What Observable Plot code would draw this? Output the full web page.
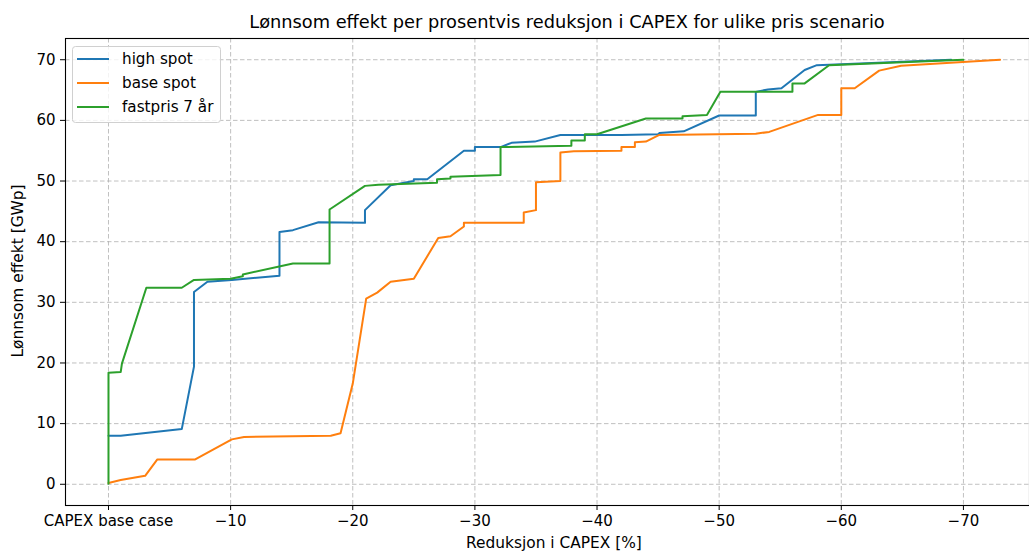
<!DOCTYPE html>
<html>
<head>
<meta charset="utf-8">
<script src="https://cdn.jsdelivr.net/npm/d3@7"></script>
<script src="https://cdn.jsdelivr.net/npm/@observablehq/plot@0.6"></script>
<style>
  html, body { margin: 0; padding: 0; background: #fff; }
  #chart svg { display: block; }
</style>
</head>
<body>
<div id="chart"></div>
<script>
const seriesNames = ["high spot", "base spot", "fastpris 7 år"];
const seriesColors = ["#1f77b4", "#ff7f0e", "#2ca02c"];

const highX = [0, -1, -6, -7, -7, -8.1, -10.1, -14, -14, -15.1, -17.2, -21, -21, -23.1, -25, -25, -26.1, -29.1, -30, -30, -32.1, -33, -34.9, -37, -42, -45, -45.1, -47.1, -50, -53, -53, -54, -55.1, -57, -58, -69];
const highY = [8, 8, 9.1, 19.4, 31.7, 33.4, 33.7, 34.4, 41.6, 41.9, 43.2, 43.1, 45.2, 49.3, 50.0, 50.3, 50.3, 55.0, 55.0, 55.6, 55.6, 56.3, 56.5, 57.6, 57.6, 57.7, 57.9, 58.2, 60.8, 60.8, 64.7, 65.1, 65.3, 68.3, 69.1, 70.0];

const baseX = [0, -1, -3, -4, -7.1, -10.1, -11.1, -18.2, -19, -20, -21.1, -22, -23.1, -25, -27, -28, -29.1, -29.1, -34, -34, -35, -35, -37, -37, -38.1, -42, -42, -43.1, -43.1, -44, -45.1, -53, -54.1, -58.1, -60, -60, -61.1, -63.1, -64.9, -73];
const baseY = [0.2, 0.7, 1.4, 4.1, 4.1, 7.4, 7.8, 8.0, 8.4, 16.6, 30.6, 31.6, 33.4, 33.9, 40.6, 40.9, 42.5, 43.1, 43.1, 44.8, 45.2, 49.8, 50.0, 54.7, 54.9, 55.0, 55.6, 55.6, 56.4, 56.5, 57.6, 57.8, 58.1, 60.9, 60.9, 65.3, 65.3, 68.2, 69.0, 70.0];

const fastX = [0, 0, -1, -1.1, -3.1, -6, -7, -10, -11, -11, -15.1, -18.1, -18.1, -21, -22.1, -26.9, -26.9, -28, -28, -32.1, -32.1, -37.9, -37.9, -39, -39, -40, -44, -47, -47, -49, -50.1, -56, -56, -57, -59, -70];
const fastY = [0.1, 18.4, 18.5, 19.9, 32.4, 32.4, 33.7, 33.9, 34.3, 34.6, 36.4, 36.4, 45.3, 49.2, 49.4, 49.7, 50.3, 50.4, 50.7, 51.0, 55.6, 55.8, 56.7, 56.7, 57.7, 57.7, 60.3, 60.3, 60.7, 60.9, 64.7, 64.7, 66.1, 66.1, 69.1, 70.0];

const xTicks = [0, -10, -20, -30, -40, -50, -60, -70];
const xTickLabels = ["CAPEX base case", "\u221210", "\u221220", "\u221230", "\u221240", "\u221250", "\u221260", "\u221270"];
const yTicks = [0, 10, 20, 30, 40, 50, 60, 70];

const titleText = "Lønnsom effekt per prosentvis reduksjon i CAPEX for ulike pris scenario";
const xLabelText = "Reduksjon i CAPEX [%]";
const yLabelText = "Lønnsom effekt [GWp]";

const xs = [highX, baseX, fastX];
const ys = [highY, baseY, fastY];
const rows = [];
seriesNames.forEach((name, s) => {
  xs[s].forEach((x, i) => rows.push({series: name, x, y: ys[s][i]}));
});

const W = 1029, H = 551;
const mL = 65, mR = 0, mT = 38, mB = 46;
const font = "DejaVu Sans, sans-serif";

const plot = Plot.plot({
  width: W,
  height: H,
  marginLeft: mL,
  marginRight: mR,
  marginTop: mT,
  marginBottom: mB,
  style: {fontFamily: font, fontSize: "15px", color: "#000", background: "#fff", overflow: "visible"},
  x: {domain: [3.52, -75.41]},
  y: {domain: [-3.5, 73.5]},
  color: {domain: seriesNames, range: seriesColors},
  marks: [
    Plot.gridX(xTicks, {stroke: "#b0b0b0", strokeOpacity: 0.8, strokeDasharray: "4.5,2.5", strokeWidth: 1}),
    Plot.gridY(yTicks, {stroke: "#b0b0b0", strokeOpacity: 0.8, strokeDasharray: "4.5,2.5", strokeWidth: 1}),
    Plot.line(rows, {x: "x", y: "y", z: "series", stroke: "series", strokeWidth: 2}),
    Plot.frame({stroke: "#000", strokeWidth: 1.1}),
    Plot.axisX({ticks: xTicks, tickFormat: d => xTickLabels[xTicks.indexOf(d)], tickSize: 5, tickPadding: 5, label: null, fontSize: 15}),
    Plot.axisY({ticks: yTicks, tickSize: 5, tickPadding: 5, label: null, fontSize: 15, tickFormat: d => String(d)})
  ]
});

document.getElementById("chart").appendChild(plot);

const svg = d3.select(plot);
svg.append("text")
  .attr("x", 567).attr("y", 28)
  .attr("text-anchor", "middle")
  .attr("font-family", font).attr("font-size", 17.8).attr("fill", "#000")
  .text(titleText);
svg.append("text")
  .attr("x", 554).attr("y", 548)
  .attr("text-anchor", "middle")
  .attr("font-family", font).attr("font-size", 15.4).attr("fill", "#000")
  .text(xLabelText);
svg.append("text")
  .attr("transform", "translate(23,271) rotate(-90)")
  .attr("text-anchor", "middle")
  .attr("font-family", font).attr("font-size", 15.4).attr("fill", "#000")
  .text(yLabelText);

// legend
const lg = svg.append("g");
lg.append("rect")
  .attr("x", 72.5).attr("y", 46.5).attr("width", 148).attr("height", 76).attr("rx", 3)
  .attr("fill", "#fff").attr("fill-opacity", 0.8).attr("stroke", "#d0d0d0");
seriesNames.forEach((name, i) => {
  const yy = 59 + i * 24;
  lg.append("line").attr("x1", 77).attr("x2", 109).attr("y1", yy).attr("y2", yy)
    .attr("stroke", seriesColors[i]).attr("stroke-width", 2);
  lg.append("text").attr("x", 122).attr("y", yy).attr("dy", "0.35em")
    .attr("text-anchor", "start")
    .attr("font-family", font).attr("font-size", 15.2).attr("fill", "#000")
    .text(name);
});
</script>
</body>
</html>
